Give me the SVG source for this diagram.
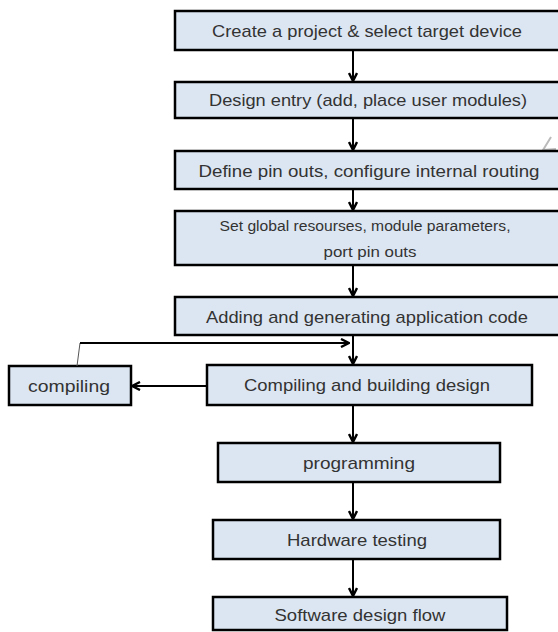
<svg xmlns="http://www.w3.org/2000/svg" width="558" height="632" viewBox="0 0 558 632">
<style>
.box{fill:#dce6f2;stroke:#000;stroke-width:2.5}
.t{font-family:"Liberation Sans","Open Sans",sans-serif;font-size:17px;fill:#333;text-anchor:middle}
.s{font-size:14px}
.c{stroke:#000;stroke-width:2;fill:none}
</style>
<defs>
<marker id="ah" viewBox="0 0 10 10" refX="9" refY="5" markerWidth="10" markerHeight="10" markerUnits="userSpaceOnUse" orient="auto">
<path d="M1,1 L9,5 L1,9" fill="none" stroke="#000" stroke-width="2.4"/>
</marker>
</defs>
<rect width="558" height="632" fill="#fff"/>
<path d="M551,137 L543,150 L556,149" fill="none" stroke="#bbb" stroke-width="2"/>
<g id="n1"><rect class="box" x="175" y="11" width="390" height="39"/><text class="t" x="367" y="37" textLength="310" lengthAdjust="spacingAndGlyphs">Create a project &amp; select target device</text></g>
<g id="n2"><rect class="box" x="175" y="82" width="390" height="36"/><text class="t" x="368" y="106" textLength="318" lengthAdjust="spacingAndGlyphs">Design entry (add, place user modules)</text></g>
<g id="n3"><rect class="box" x="175" y="151" width="390" height="38"/><text class="t" x="369" y="177" textLength="341" lengthAdjust="spacingAndGlyphs">Define pin outs, configure internal routing</text></g>
<g id="n4"><rect class="box" x="175" y="211" width="390" height="54"/><text class="t s" x="365" y="231" textLength="291" lengthAdjust="spacingAndGlyphs">Set global  resourses,  module parameters,</text><text class="t s" x="370" y="257" textLength="93" lengthAdjust="spacingAndGlyphs">port pin outs</text></g>
<g id="n5"><rect class="box" x="175" y="297" width="390" height="38"/><text class="t" x="367" y="323" textLength="322" lengthAdjust="spacingAndGlyphs">Adding and generating application code</text></g>
<g id="n6"><rect class="box" x="207" y="365" width="325" height="40"/><text class="t" x="367" y="391" textLength="246" lengthAdjust="spacingAndGlyphs">Compiling and building design</text></g>
<g id="n7"><rect class="box" x="9" y="366" width="122" height="39"/><text class="t" x="69" y="392" textLength="82" lengthAdjust="spacingAndGlyphs">compiling</text></g>
<g id="n8"><rect class="box" x="218" y="443" width="282" height="39"/><text class="t" x="359" y="469" textLength="112" lengthAdjust="spacingAndGlyphs">programming</text></g>
<g id="n9"><rect class="box" x="213" y="520" width="287" height="39"/><text class="t" x="357" y="546" textLength="140" lengthAdjust="spacingAndGlyphs">Hardware testing</text></g>
<g id="n10"><rect class="box" x="213" y="597" width="294" height="33"/><text class="t" x="360" y="621" textLength="171" lengthAdjust="spacingAndGlyphs">Software design flow</text></g>
<g id="connectors">
<line class="c" x1="353" y1="50" x2="353" y2="81" marker-end="url(#ah)"/>
<line class="c" x1="353" y1="118" x2="353" y2="150" marker-end="url(#ah)"/>
<line class="c" x1="353" y1="189" x2="353" y2="210" marker-end="url(#ah)"/>
<line class="c" x1="353" y1="265" x2="353" y2="296" marker-end="url(#ah)"/>
<line class="c" x1="353" y1="335" x2="353" y2="364" marker-end="url(#ah)"/>
<line class="c" x1="207" y1="386" x2="132" y2="386" marker-end="url(#ah)"/>
<path d="M77,366 L80,343" fill="none" stroke="#555" stroke-width="1"/>
<line class="c" x1="80" y1="343" x2="349" y2="343" marker-end="url(#ah)"/>
<line class="c" x1="353" y1="405" x2="353" y2="442" marker-end="url(#ah)"/>
<line class="c" x1="353" y1="482" x2="353" y2="519" marker-end="url(#ah)"/>
<line class="c" x1="353" y1="559" x2="353" y2="596" marker-end="url(#ah)"/>
</g>
</svg>
